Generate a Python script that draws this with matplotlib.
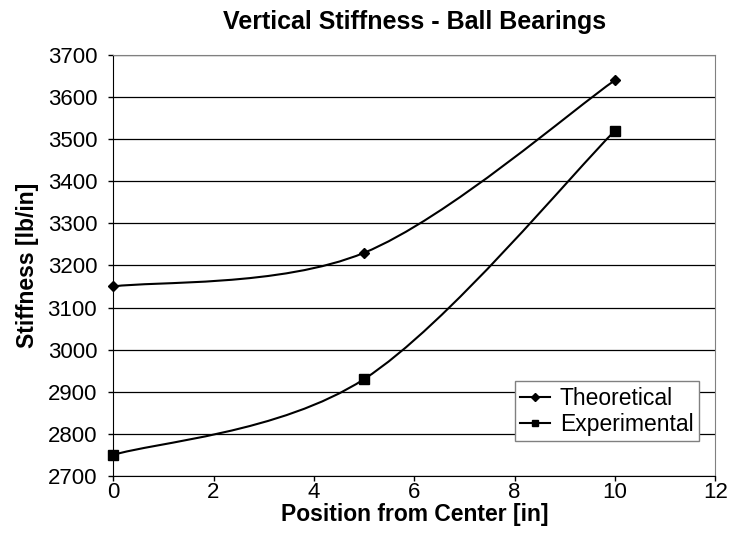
import matplotlib
matplotlib.use('Agg')
import matplotlib.pyplot as plt
from matplotlib.path import Path
from matplotlib.patches import PathPatch
from matplotlib.lines import Line2D

plt.rcParams['font.family'] = ['Liberation Sans', 'DejaVu Sans']

# Data
position = [0, 5, 10]
theoretical = [3150, 3230, 3640]
experimental = [2750, 2930, 3520]
x_ticks = [0, 2, 4, 6, 8, 10, 12]
y_ticks = [2700, 2800, 2900, 3000, 3100, 3200, 3300, 3400, 3500, 3600, 3700]


def smooth_path(xs, ys):
    # Excel-style smoothed line: cubic Bezier through the points
    pts = list(zip(xs, ys))
    n = len(pts)
    verts = [pts[0]]
    codes = [Path.MOVETO]
    for i in range(n - 1):
        p0 = pts[max(i - 1, 0)]
        p1 = pts[i]
        p2 = pts[i + 1]
        p3 = pts[min(i + 2, n - 1)]
        c1 = (p1[0] + (p2[0] - p0[0]) / 6, p1[1] + (p2[1] - p0[1]) / 6)
        c2 = (p2[0] - (p3[0] - p1[0]) / 6, p2[1] - (p3[1] - p1[1]) / 6)
        verts += [c1, c2, p2]
        codes += [Path.CURVE4] * 3
    return Path(verts, codes)


fig = plt.figure(figsize=(7.3, 5.33), dpi=100)
ax = fig.add_axes([0.155, 0.107, 0.825, 0.790])

for ys, marker, ms in [(theoretical, 'D', 5), (experimental, 's', 7)]:
    ax.add_patch(PathPatch(smooth_path(position, ys), facecolor='none',
                           edgecolor='black', linewidth=1.5, zorder=3))
    ax.plot(position, ys, linestyle='none', marker=marker, markersize=ms,
            color='black', zorder=4, clip_on=False)

ax.set_xlim(0, 12)
ax.set_ylim(2700, 3700)
ax.set_xticks(x_ticks)
ax.set_yticks(y_ticks)
ax.grid(axis='y', color='black', linewidth=0.9)
ax.set_axisbelow(True)

ax.spines['left'].set_color('black')
ax.spines['bottom'].set_color('black')
ax.spines['top'].set_color('#808080')
ax.spines['right'].set_color('#808080')
ax.tick_params(direction='out', length=3.5, width=1, labelsize=16)
ax.tick_params(axis='y', pad=8)
ax.tick_params(axis='x', pad=1)

ax.set_title('Vertical Stiffness - Ball Bearings', fontsize=18, fontweight='bold', pad=19)
ax.set_xlabel('Position from Center [in]', fontsize=16.5, fontweight='bold', labelpad=0)
ax.set_ylabel('Stiffness [lb/in]', fontsize=16.5, fontweight='bold', labelpad=6)

handles = [
    Line2D([], [], color='black', marker='D', markersize=4, linewidth=1.5),
    Line2D([], [], color='black', marker='s', markersize=5, linewidth=1.5),
]
leg = ax.legend(handles, ['Theoretical', 'Experimental'], loc='lower left',
                bbox_to_anchor=(0.667, 0.083), fontsize=16.5, fancybox=False,
                framealpha=1, edgecolor='#808080', handlelength=1.3,
                handletextpad=0.45, borderpad=0.22, labelspacing=0.15,
                borderaxespad=0)
leg.get_frame().set_linewidth(1)

fig.savefig('out.png', dpi=100)
